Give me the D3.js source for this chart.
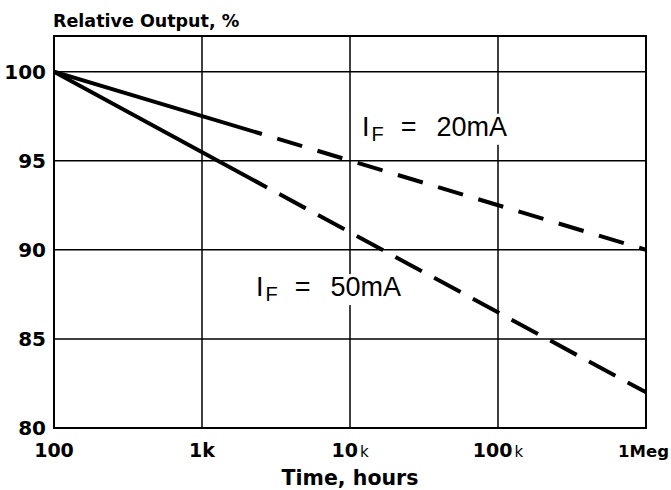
<!DOCTYPE html>
<html>
<head>
<meta charset="utf-8">
<script src="https://cdn.jsdelivr.net/npm/d3@7"></script>
<style>
  html, body { margin: 0; padding: 0; background: #fff; }
  svg { display: block; }
</style>
</head>
<body>
<svg id="chart" width="671" height="490"></svg>
<script>
// ---- data ----
const xTicks = [100, 1000, 10000, 100000, 1000000];
const xTickLabels = [["100", ""], ["1k", ""], ["10", "k"], ["100", "k"], ["1Meg", ""]];
const yTicks = [80, 85, 90, 95, 100];
const yTickLabels = ["80", "85", "90", "95", "100"];
const xGrid = [1000, 10000, 100000];
const yGrid = [85, 90, 95, 100];

// I_F = 20mA : measured (solid) then extrapolated (dashed)
const solid20 = [{t: 100, v: 100}, {t: 2540, v: 96.5}];
const dashed20 = [{t: 2540, v: 96.5}, {t: 1000000, v: 90}];
// I_F = 50mA
const solid50 = [{t: 100, v: 100}, {t: 2750, v: 93.5}];
const dashed50 = [{t: 2750, v: 93.5}, {t: 1000000, v: 82}];

const labels = [
  {t: 12050, v: 96.4, sub: "F", value: "20mA"},
  {t: 2317, v: 87.4, sub: "F", value: "50mA"}
];

// ---- layout ----
const svg = d3.select("#chart");
const mL = 54, mR = 646, mT = 36, mB = 428;
const x = d3.scaleLog().domain([100, 1000000]).range([mL, mR]);
const y = d3.scaleLinear().domain([80, 102]).range([mB, mT]);

// grid
svg.append("g").selectAll("line").data(xGrid).join("line")
  .attr("x1", d => x(d)).attr("x2", d => x(d))
  .attr("y1", mT).attr("y2", mB)
  .attr("stroke", "#000").attr("stroke-width", 1.5);
svg.append("g").selectAll("line").data(yGrid).join("line")
  .attr("x1", mL).attr("x2", mR)
  .attr("y1", d => y(d)).attr("y2", d => y(d))
  .attr("stroke", "#000").attr("stroke-width", 1.5);

// annotation labels with white boxes masking grid
const labG = svg.append("g");
labels.forEach(L => {
  const g = labG.append("g");
  const rect = g.append("rect").attr("fill", "#fff");
  const txt = g.append("text")
    .attr("x", x(L.t)).attr("y", y(L.v))
    .attr("font-family", "'Liberation Sans', Arial, sans-serif")
    .attr("font-size", 27).attr("fill", "#000");
  txt.append("tspan").text("I");
  txt.append("tspan").attr("font-size", 20).attr("dy", 5).attr("dx", 2).text(L.sub);
  txt.append("tspan").attr("dy", -5).attr("dx", 17).text("=");
  txt.append("tspan").attr("dx", 20).text(L.value);
  const bb = txt.node().getBBox();
  rect.attr("x", bb.x - 6).attr("y", bb.y + 2)
      .attr("width", bb.width + 12).attr("height", bb.height - 2);
});

// data lines
const line = d3.line().x(d => x(d.t)).y(d => y(d.v));
svg.append("clipPath").attr("id", "clip")
  .append("rect").attr("x", mL).attr("y", mT)
  .attr("width", mR - mL).attr("height", mB - mT);
const lg = svg.append("g").attr("clip-path", "url(#clip)");
[solid20, solid50].forEach(s => {
  lg.append("path").datum(s).attr("d", line)
    .attr("fill", "none").attr("stroke", "#000").attr("stroke-width", 4);
});
lg.append("path").datum(dashed20).attr("d", line)
  .attr("fill", "none").attr("stroke", "#000").attr("stroke-width", 4)
  .attr("stroke-dasharray", "26,16").attr("stroke-dashoffset", 26);
lg.append("path").datum(dashed50).attr("d", line)
  .attr("fill", "none").attr("stroke", "#000").attr("stroke-width", 4)
  .attr("stroke-dasharray", "30,14").attr("stroke-dashoffset", 30);

// frame
svg.append("rect").attr("x", mL).attr("y", mT)
  .attr("width", mR - mL).attr("height", mB - mT)
  .attr("fill", "none").attr("stroke", "#000").attr("stroke-width", 2);

// y tick labels
svg.append("g").selectAll("text").data(yTicks).join("text")
  .attr("x", mL - 8).attr("y", d => y(d)).attr("dy", "0.36em")
  .attr("text-anchor", "end")
  .attr("font-family", "'DejaVu Sans', sans-serif").attr("font-weight", "bold")
  .attr("font-size", 20).attr("fill", "#000")
  .text((d, i) => yTickLabels[i]);

// x tick labels
const xt = svg.append("g").selectAll("text").data(xTicks).join("text")
  .attr("x", d => x(d)).attr("y", 457)
  .attr("text-anchor", "middle")
  .attr("font-family", "'DejaVu Sans', sans-serif").attr("font-weight", "bold")
  .attr("font-size", 19).attr("fill", "#000");
xt.each(function(d, i) {
  const t = d3.select(this);
  t.append("tspan").text(xTickLabels[i][0]);
  if (xTickLabels[i][1]) {
    t.append("tspan").attr("dx", 2).attr("font-size", 15).attr("font-weight", "normal")
      .text(xTickLabels[i][1]);
  }
  if (i === xTicks.length - 1) {
    // last label sits at the right edge of the window
    t.attr("x", 669).attr("text-anchor", "end").attr("font-size", 16.5);
  }
});

// titles
svg.append("text").attr("x", 53).attr("y", 27)
  .attr("font-family", "'DejaVu Sans', sans-serif").attr("font-weight", "bold")
  .attr("font-size", 17.5).attr("fill", "#000")
  .text("Relative Output, %");
svg.append("text").attr("x", (mL + mR) / 2).attr("y", 485)
  .attr("text-anchor", "middle")
  .attr("font-family", "'DejaVu Sans', sans-serif").attr("font-weight", "bold")
  .attr("font-size", 20.5).attr("fill", "#000")
  .text("Time, hours");
</script>
</body>
</html>
